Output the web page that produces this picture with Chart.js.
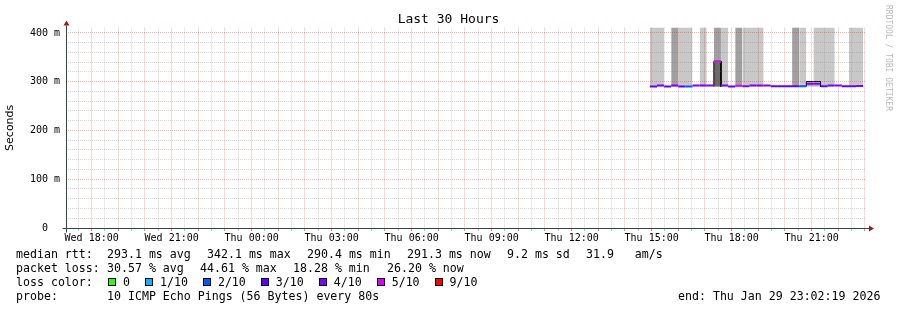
<!DOCTYPE html>
<html>
<head>
<meta charset="utf-8">
<title>Last 30 Hours</title>
<script src="https://cdn.jsdelivr.net/npm/chart.js@4.4.1/dist/chart.umd.min.js"></script>
<style>
  body { margin: 0; background: #fff; }
  #wrap { position: relative; width: 897px; height: 310px; overflow: hidden; }
  #chart { position: absolute; left: 0; top: 0; }
  .t { position: absolute; font: 11.6px "DejaVu Sans Mono", monospace; line-height: 14px; white-space: pre; color: #000; }
  #loss { position: absolute; left: 108px; top: 275px; display: flex; align-items: center; height: 14px; }
  #loss .sw { width: 6px; height: 6px; border: 1px solid #000; margin-right: 7px; }
  #loss span { font: 11.6px "DejaVu Sans Mono", monospace; white-space: pre; margin-right: 15px; }
  #mark { position: absolute; left: 884px; top: 5px; writing-mode: vertical-rl; font: 8px "DejaVu Sans Mono", monospace; line-height: 8px; color: #bbb; white-space: pre; }
</style>
</head>
<body>
<div id="wrap">
  <canvas id="chart" width="897" height="310"></canvas>
  <div id="mark">RRDTOOL / TOBI OETIKER</div>

  <div class="t" style="left:16px;top:247px">median rtt:</div>
  <div class="t" style="left:107px;top:247px">293.1 ms avg</div>
  <div class="t" style="left:207px;top:247px">342.1 ms max</div>
  <div class="t" style="left:307px;top:247px">290.4 ms min</div>
  <div class="t" style="left:407px;top:247px">291.3 ms now</div>
  <div class="t" style="left:507px;top:247px">9.2 ms sd</div>
  <div class="t" style="left:586px;top:247px">31.9   am/s</div>

  <div class="t" style="left:16px;top:261px">packet loss:</div>
  <div class="t" style="left:107px;top:261px">30.57 % avg</div>
  <div class="t" style="left:200px;top:261px">44.61 % max</div>
  <div class="t" style="left:293px;top:261px">18.28 % min</div>
  <div class="t" style="left:387px;top:261px">26.20 % now</div>

  <div class="t" style="left:16px;top:275px">loss color:</div>
  <div id="loss"></div>

  <div class="t" style="left:16px;top:289px">probe:</div>
  <div class="t" style="left:107px;top:289px">10 ICMP Echo Pings (56 Bytes) every 80s</div>
  <div class="t" style="left:678px;top:289px">end: Thu Jan 29 23:02:19 2026</div>
</div>
<script>
// time is in hours since Wed 00:00
const rangeStart = 17 + 2 / 60 + 19 / 3600;
const rangeEnd = rangeStart + 30;
const stepStart = 38 + 56 / 60;   // Thu 14:56, first sample
const stepHours = 16 / 60;

const medianMs = [290.4, 292, 290.4, 292, 290.4, 290.4, 292, 292, 292, 341.5,
                  292, 290.4, 291.5, 290.8, 292, 292, 292, 290.6, 290.6, 290.6,
                  290.6, 290.6, 296, 296, 290.6, 292, 292, 290.6, 290.6, 291.3];
const lossTenths = [3, 4, 3, 4, 3, 2, 4, 4, 4, 5,
                    4, 3, 5, 4, 4, 4, 4, 3, 3, 3,
                    3, 2, 4, 4, 3, 4, 4, 3, 3, 4];
// upper edge of the ping spread ("smoke"), null where there is none
const lightSmokeMs = [430, 430, null, null, 430, 430, null, 430, null, null,
                      430, null, null, 430, 430, 430, null, null, null, null,
                      null, 430, null, 430, 430, 430, null, null, 430, 430];
const darkSmokeMs = [null, null, null, 430, null, null, null, null, null, 430,
                     null, null, 430, null, null, null, null, null, null, null,
                     430, null, null, null, null, null, null, null, null, null];
const spikeTopMs = [null, null, null, null, null, null, null, null, null, 342,
                    null, null, null, null, null, null, null, null, null, null,
                    null, null, null, null, null, null, null, null, null, null];
const bumpTopMs = [null, null, null, null, null, null, null, null, null, null,
                   null, null, null, null, null, null, null, null, null, null,
                   null, null, 300.5, 300.5, null, null, null, null, null, null];

const xTickHours = [18, 21, 24, 27, 30, 33, 36, 39, 42, 45];
const xTickLabels = ['Wed 18:00', 'Wed 21:00', 'Thu 00:00', 'Thu 03:00', 'Thu 06:00',
                     'Thu 09:00', 'Thu 12:00', 'Thu 15:00', 'Thu 18:00', 'Thu 21:00'];
const yTickValues = [0, 100, 200, 300, 400];
const yTickLabels = ['0  ', '100 m', '200 m', '300 m', '400 m'];

const lossLevels = [0, 1, 2, 3, 4, 5, 9];
const lossLabels = ['0', '1/10', '2/10', '3/10', '4/10', '5/10', '9/10'];
const lossColors = ['#26ff00', '#00b8ff', '#0059ff', '#5e00ff', '#7e00ff', '#dd00ff', '#ff0000'];

const smokeBase = 290;
const majorGrid = 'rgba(255,0,0,0.32)';
const minorGrid = 'rgba(128,128,128,0.32)';

function lossColor(l) {
  let c = lossColors[0];
  lossLevels.forEach((lv, i) => { if (l >= lv) c = lossColors[i]; });
  return c;
}

const stepX = i => stepStart + i * stepHours;

// one flat piece per sample, broken by a null (3 points per sample)
function pieces(values) {
  const pts = [];
  values.forEach((v, i) => {
    pts.push({x: stepX(i), y: v}, {x: stepX(i + 1), y: v}, {x: stepX(i + 1), y: null});
  });
  return pts;
}

// flat runs, equal neighbours joined
function runs(values) {
  const pts = [];
  values.forEach((v, i) => {
    if (v === null) return;
    if (i > 0 && values[i - 1] === v) {
      pts[pts.length - 2].x = stepX(i + 1);
      pts[pts.length - 1].x = stepX(i + 1);
      return;
    }
    pts.push({x: stepX(i), y: v}, {x: stepX(i + 1), y: v}, {x: stepX(i + 1), y: null});
  });
  return pts;
}

// same, but with vertical edges down to base at each end of a run
function boxed(values, base) {
  const pts = [];
  values.forEach((v, i) => {
    if (v === null) return;
    if (i === 0 || values[i - 1] === null) pts.push({x: stepX(i), y: base});
    pts.push({x: stepX(i), y: v}, {x: stepX(i + 1), y: v});
    if (i === values.length - 1 || values[i + 1] === null) {
      pts.push({x: stepX(i + 1), y: base}, {x: stepX(i + 1), y: null});
    }
  });
  return pts;
}

const gridHours = [];
for (let h = Math.ceil(rangeStart * 2) / 2; h <= rangeEnd; h += 0.5) gridHours.push(h);
const gridMs = [];
for (let v = 0; v <= 400; v += 20) gridMs.push(v);

// legend swatches
const lossBox = document.getElementById('loss');
lossLabels.forEach((lab, i) => {
  const sw = document.createElement('div');
  sw.className = 'sw';
  sw.style.background = lossColors[i];
  const tx = document.createElement('span');
  tx.textContent = lab;
  lossBox.appendChild(sw);
  lossBox.appendChild(tx);
});

const axisArrows = {
  id: 'axisArrows',
  afterDraw(chart) {
    const {ctx, chartArea: a} = chart;
    const x0 = Math.round(a.left) + 0.5, y0 = Math.round(a.bottom) + 0.5;
    ctx.save();
    ctx.strokeStyle = '#2c4d43';
    ctx.lineWidth = 1;
    ctx.beginPath();
    ctx.moveTo(x0 - 4, y0); ctx.lineTo(a.right + 3, y0);
    ctx.moveTo(x0, y0 + 4); ctx.lineTo(x0, a.top - 2);
    ctx.stroke();
    ctx.fillStyle = '#9b1c1c';
    ctx.beginPath();
    ctx.moveTo(a.right + 8, y0); ctx.lineTo(a.right + 3, y0 - 3); ctx.lineTo(a.right + 3, y0 + 3); ctx.closePath();
    ctx.moveTo(x0, a.top - 7); ctx.lineTo(x0 - 3, a.top - 2); ctx.lineTo(x0 + 3, a.top - 2); ctx.closePath();
    ctx.fill();
    ctx.restore();
  }
};

const tickFont = {family: 'DejaVu Sans Mono', size: 10};

new Chart(document.getElementById('chart'), {
  type: 'line',
  data: {
    datasets: [
      {
        data: pieces(medianMs),
        borderWidth: 2,
        borderCapStyle: 'butt',
        segment: {borderColor: ctx => lossColor(lossTenths[Math.floor(ctx.p0DataIndex / 3)])},
        fill: false
      },
      {
        data: boxed(spikeTopMs, smokeBase),
        borderColor: '#000',
        borderWidth: 1,
        backgroundColor: '#6a6a6a',
        fill: {value: smokeBase}
      },
      {
        data: boxed(bumpTopMs, smokeBase),
        borderColor: '#000',
        borderWidth: 1,
        backgroundColor: '#b4b4b4',
        fill: {value: smokeBase}
      },
      {
        data: runs(darkSmokeMs),
        borderWidth: 0,
        backgroundColor: '#a0a0a0',
        fill: {value: smokeBase}
      },
      {
        data: runs(lightSmokeMs),
        borderWidth: 0,
        backgroundColor: '#c8c8c8',
        fill: {value: smokeBase}
      }
    ]
  },
  options: {
    responsive: false,
    animation: false,
    elements: {point: {radius: 0}, line: {tension: 0}},
    layout: {padding: 0},
    plugins: {
      legend: {display: false},
      tooltip: {enabled: false},
      title: {
        display: true,
        text: 'Last 30 Hours',
        color: '#000',
        font: {family: 'DejaVu Sans Mono', size: 13, weight: 'normal'},
        padding: {top: 12, bottom: 0}
      }
    },
    scales: {
      x: {
        type: 'linear',
        min: rangeStart,
        max: rangeEnd,
        afterBuildTicks: s => { s.ticks = gridHours.map(v => ({value: v})); },
        afterFit: s => { s.height = 82; },
        grid: {
          z: 1,
          color: ctx => (ctx.tick && ctx.tick.value % 1 === 0) ? majorGrid : minorGrid,
          tickColor: ctx => (ctx.tick && ctx.tick.value % 1 === 0) ? 'rgba(255,0,0,0.5)' : 'rgba(128,128,128,0.5)',
          tickLength: 3
        },
        border: {display: false, dash: [1, 1]},
        ticks: {
          autoSkip: false,
          maxRotation: 0,
          padding: 1,
          color: '#000',
          font: tickFont,
          callback: v => { const k = xTickHours.indexOf(v); return k < 0 ? '' : xTickLabels[k]; }
        }
      },
      y: {
        min: 0,
        max: 411,
        afterBuildTicks: s => { s.ticks = gridMs.map(v => ({value: v})); },
        afterFit: s => { s.width = 66; },
        grid: {
          z: 1,
          drawTicks: false,
          color: ctx => (ctx.tick && ctx.tick.value % 100 === 0) ? majorGrid : minorGrid
        },
        border: {display: false, dash: [1, 1]},
        ticks: {
          autoSkip: false,
          padding: 6,
          color: '#000',
          font: tickFont,
          callback: v => { const k = yTickValues.indexOf(v); return k < 0 ? '' : yTickLabels[k]; }
        },
        title: {
          display: true,
          text: 'Seconds',
          color: '#000',
          font: {family: 'DejaVu Sans', size: 11},
          padding: {top: 4, bottom: 0}
        }
      },
      y2: {
        position: 'right',
        grid: {display: false},
        border: {display: false},
        ticks: {display: false},
        afterFit: s => { s.width = 31; }
      }
    }
  },
  plugins: [axisArrows]
});
</script>
</body>
</html>
